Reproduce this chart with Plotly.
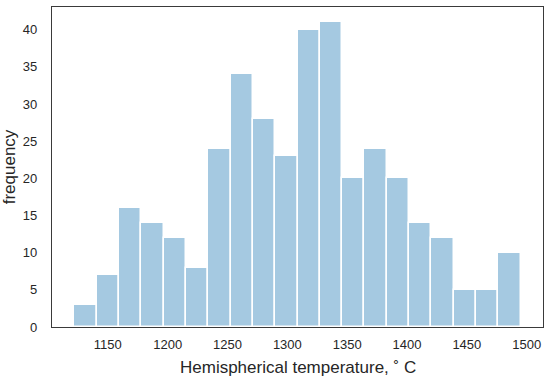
import numpy as np
import plotly.graph_objects as go

# Histogram data (20 bins)
bin_min = 1122.0
bin_max = 1495.0
counts = [3, 7, 16, 14, 12, 8, 24, 34, 28, 23, 40, 41, 20, 24, 20, 14, 12, 5, 5, 10]
x_ticks = [1150, 1200, 1250, 1300, 1350, 1400, 1450, 1500]
y_ticks = [0, 5, 10, 15, 20, 25, 30, 35, 40]
x_label = "Hemispherical temperature, ˚ C"
y_label = "frequency"

n = len(counts)
edges = np.linspace(bin_min, bin_max, n + 1)
width = edges[1] - edges[0]
centers = (edges[:-1] + edges[1:]) / 2

fig = go.Figure(go.Bar(
    x=centers, y=counts, width=width,
    marker=dict(color="#a5c9e1", line=dict(color="white", width=1.5)),
    hoverinfo="x+y",
))

span = bin_max - bin_min
txt = "#262626"
fig.update_layout(
    width=550, height=379,
    margin=dict(l=52, r=7, t=7, b=52),
    paper_bgcolor="white", plot_bgcolor="white",
    font=dict(family="Liberation Sans, Arial, sans-serif", color=txt),
    showlegend=False,
    bargap=0,
    annotations=[
        dict(text=x_label, xref="paper", yref="paper", x=0.5, y=-0.125,
             xanchor="center", yanchor="middle", showarrow=False,
             font=dict(size=17, color=txt)),
        dict(text=y_label, xref="paper", yref="paper", x=-0.087, y=0.5,
             xanchor="center", yanchor="middle", showarrow=False, textangle=-90,
             font=dict(size=17, color=txt)),
    ],
)
fig.update_xaxes(
    range=[bin_min - 0.05 * span, bin_max + 0.05 * span],
    tickvals=x_ticks, ticks="", tickfont=dict(size=13, color=txt),
    ticklabelstandoff=5, automargin=False,
    showgrid=False, zeroline=False,
    showline=True, linecolor="#3a3a3a", linewidth=1.2, mirror=True,
)
fig.update_yaxes(
    range=[0, max(counts) * 1.05],
    tickvals=y_ticks, ticks="", tickfont=dict(size=13, color=txt),
    ticklabelstandoff=11, automargin=False,
    showgrid=False, zeroline=False,
    showline=True, linecolor="#3a3a3a", linewidth=1.2, mirror=True,
)

fig.write_html("out.html",
               config={"displayModeBar": False},
               post_script="document.body.style.margin='0';document.body.style.overflow='hidden';")
